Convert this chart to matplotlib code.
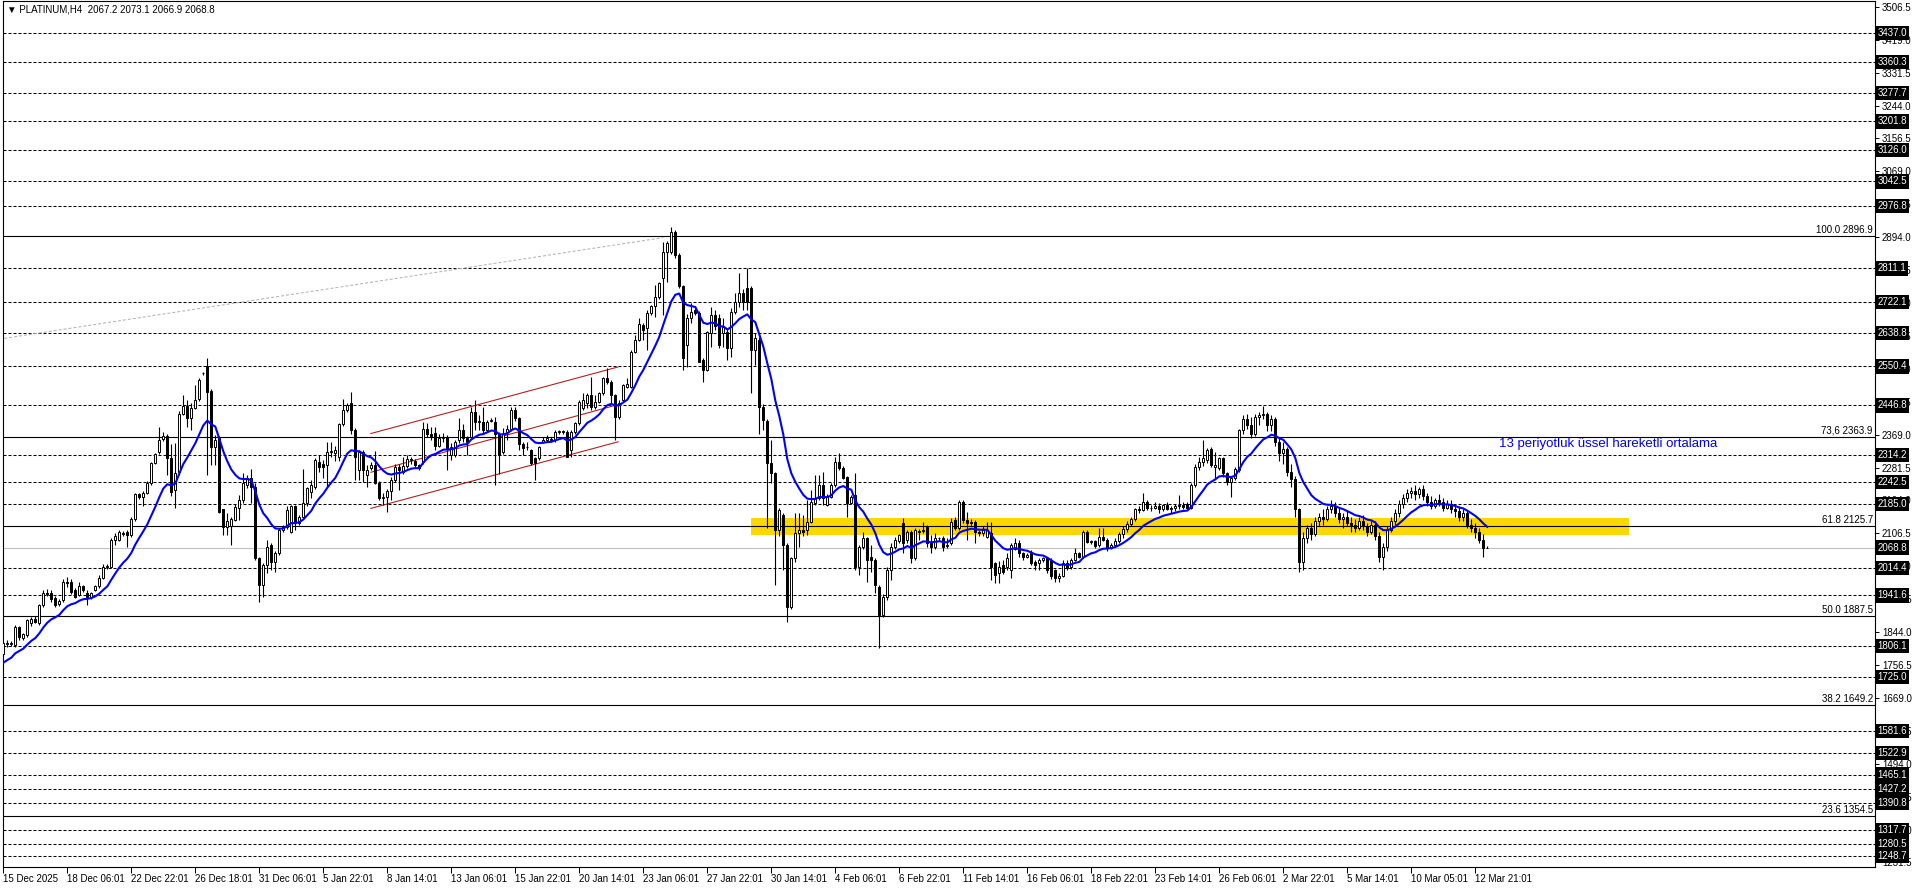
import numpy as np
import matplotlib.pyplot as plt
from matplotlib.patches import Rectangle
from matplotlib.transforms import blended_transform_factory

# ---- data: H4 bars [open, high, low, close] ----
dec_bars = [
    [1787, 1818, 1783, 1814], [1814, 1822, 1805, 1812], [1812, 1820, 1806, 1814], [1810, 1863, 1805, 1858],
    [1858, 1860, 1822, 1830], [1828, 1842, 1824, 1838], [1836, 1880, 1832, 1876], [1868, 1885, 1860, 1880],
    [1880, 1886, 1868, 1872], [1867, 1920, 1862, 1916], [1916, 1955, 1910, 1949], [1949, 1958, 1940, 1946],
    [1949, 1956, 1925, 1931], [1934, 1940, 1912, 1916], [1918, 1932, 1914, 1928], [1929, 1985, 1925, 1978],
    [1978, 1990, 1965, 1975], [1978, 1985, 1945, 1951], [1955, 1960, 1935, 1938], [1943, 1978, 1940, 1966],
    [1966, 1970, 1950, 1956], [1947, 1955, 1916, 1938], [1938, 1950, 1932, 1947], [1956, 1970, 1952, 1966],
    [1966, 1995, 1962, 1989], [1987, 2025, 1984, 2018], [2018, 2024, 2012, 2020], [2018, 2095, 2015, 2090],
    [2090, 2107, 2075, 2100], [2090, 2115, 2086, 2111], [2108, 2112, 2100, 2106], [2110, 2115, 2070, 2103],
    [2102, 2150, 2098, 2145], [2145, 2215, 2140, 2211], [2210, 2214, 2198, 2204], [2204, 2218, 2178, 2215],
    [2213, 2245, 2210, 2241], [2240, 2297, 2236, 2293], [2293, 2320, 2290, 2317], [2323, 2390, 2318, 2355],
    [2358, 2377, 2352, 2365], [2366, 2370, 2262, 2306], [2306, 2345, 2205, 2217], [2222, 2346, 2173, 2266],
    [2270, 2432, 2262, 2425], [2425, 2474, 2420, 2444], [2444, 2461, 2390, 2412], [2412, 2452, 2381, 2440],
    [2440, 2501, 2436, 2461], [2463, 2519, 2458, 2514], [2532, 2536, 2528, 2534], [2551, 2572, 2262, 2483],
    [2486, 2490, 2288, 2337], [2337, 2368, 2288, 2355], [2359, 2365, 2160, 2164], [2170, 2172, 2102, 2124],
    [2124, 2160, 2102, 2139], [2127, 2150, 2076, 2146], [2142, 2185, 2140, 2177], [2173, 2208, 2142, 2195],
    [2195, 2266, 2186, 2240], [2235, 2262, 2226, 2253], [2253, 2279, 2186, 2231], [2231, 2240, 2035, 2040],
    [2040, 2045, 1925, 1969], [1969, 2027, 1938, 2022], [2022, 2089, 2000, 2071], [2076, 2080, 2009, 2031],
    [2031, 2060, 2005, 2053], [2055, 2120, 2050, 2115], [2115, 2129, 2110, 2124], [2124, 2178, 2118, 2168],
    [2111, 2182, 2108, 2178], [2178, 2182, 2116, 2133], [2133, 2155, 2130, 2151], [2151, 2277, 2148, 2186],
    [2186, 2230, 2180, 2226], [2216, 2248, 2200, 2235], [2231, 2306, 2225, 2302], [2297, 2315, 2270, 2284],
]
jan_bars = [
    [2290, 2302, 2253, 2284], [2288, 2350, 2230, 2323], [2323, 2350, 2310, 2325], [2320, 2340, 2300, 2328],
    [2310, 2400, 2300, 2397], [2397, 2463, 2392, 2434], [2434, 2452, 2430, 2448], [2452, 2483, 2372, 2381],
    [2381, 2386, 2248, 2310], [2275, 2328, 2248, 2324], [2324, 2328, 2244, 2275], [2263, 2288, 2231, 2275],
    [2280, 2295, 2275, 2288], [2288, 2325, 2237, 2241], [2241, 2245, 2195, 2200], [2200, 2215, 2182, 2204],
    [2204, 2225, 2164, 2218], [2218, 2257, 2195, 2248], [2248, 2290, 2244, 2284], [2284, 2290, 2222, 2275],
    [2270, 2310, 2265, 2285], [2285, 2315, 2280, 2305], [2305, 2310, 2292, 2302], [2300, 2305, 2282, 2288],
    [2289, 2292, 2275, 2280], [2295, 2403, 2290, 2383], [2385, 2399, 2364, 2372], [2372, 2390, 2355, 2365],
    [2373, 2390, 2328, 2338], [2338, 2372, 2335, 2359], [2360, 2374, 2350, 2362], [2364, 2368, 2275, 2333],
    [2315, 2346, 2302, 2337], [2315, 2355, 2310, 2350], [2355, 2412, 2346, 2381], [2381, 2398, 2350, 2359],
    [2360, 2365, 2315, 2350], [2364, 2443, 2360, 2430], [2430, 2461, 2381, 2403], [2403, 2420, 2381, 2405],
    [2403, 2443, 2372, 2381], [2381, 2408, 2376, 2403], [2406, 2412, 2402, 2408], [2403, 2417, 2235, 2372],
    [2372, 2376, 2265, 2315], [2323, 2386, 2318, 2372], [2376, 2394, 2355, 2385], [2385, 2443, 2380, 2434],
    [2434, 2443, 2405, 2412], [2412, 2416, 2328, 2345], [2345, 2350, 2315, 2333], [2335, 2350, 2328, 2337],
    [2328, 2332, 2288, 2293], [2306, 2310, 2248, 2293], [2306, 2340, 2302, 2337], [2350, 2363, 2346, 2354],
    [2356, 2368, 2350, 2359], [2358, 2362, 2350, 2355], [2355, 2381, 2350, 2377], [2377, 2381, 2370, 2377],
    [2377, 2381, 2370, 2378], [2377, 2381, 2310, 2310], [2328, 2381, 2310, 2377], [2377, 2403, 2372, 2399],
    [2399, 2461, 2395, 2457], [2439, 2479, 2434, 2461], [2452, 2479, 2440, 2474], [2474, 2523, 2434, 2443],
    [2443, 2475, 2438, 2457], [2457, 2482, 2452, 2479], [2479, 2523, 2475, 2519], [2519, 2545, 2505, 2510],
    [2510, 2514, 2452, 2474], [2474, 2478, 2355, 2417], [2417, 2461, 2410, 2452], [2461, 2505, 2455, 2501],
    [2497, 2519, 2492, 2505], [2497, 2595, 2492, 2590], [2590, 2634, 2585, 2621], [2621, 2678, 2618, 2663],
    [2660, 2665, 2621, 2646], [2652, 2700, 2594, 2692], [2692, 2715, 2688, 2711], [2711, 2767, 2683, 2736],
    [2736, 2775, 2730, 2771], [2785, 2882, 2687, 2855], [2855, 2885, 2776, 2878], [2855, 2922, 2850, 2909],
    [2909, 2913, 2840, 2847], [2847, 2852, 2758, 2763], [2763, 2768, 2541, 2572], [2607, 2690, 2550, 2678],
    [2678, 2718, 2665, 2696], [2700, 2712, 2688, 2692], [2692, 2698, 2561, 2563], [2567, 2572, 2510, 2541],
    [2541, 2645, 2538, 2643], [2638, 2709, 2603, 2687], [2687, 2700, 2647, 2658], [2680, 2690, 2600, 2607],
    [2638, 2678, 2603, 2656], [2643, 2650, 2568, 2599], [2599, 2705, 2576, 2696], [2696, 2745, 2690, 2723],
    [2723, 2798, 2709, 2745], [2745, 2755, 2700, 2723], [2758, 2811, 2700, 2723], [2758, 2765, 2479, 2594],
    [2594, 2638, 2554, 2625], [2621, 2628, 2372, 2443], [2443, 2450, 2381, 2408], [2404, 2410, 2120, 2293],
]
feb_bars = [
    [2293, 2355, 2240, 2266], [2266, 2270, 1969, 2116], [2116, 2175, 2100, 2169], [2156, 2162, 2009, 2076],
    [2076, 2080, 1872, 1912], [1912, 2045, 1905, 2040], [2040, 2160, 2030, 2107], [2107, 2160, 2070, 2116],
    [2116, 2155, 2100, 2110], [2116, 2195, 2102, 2138], [2138, 2222, 2135, 2191], [2187, 2262, 2182, 2200],
    [2200, 2262, 2196, 2235], [2235, 2270, 2182, 2200], [2182, 2210, 2180, 2204], [2204, 2240, 2200, 2235],
    [2235, 2310, 2230, 2297], [2297, 2319, 2275, 2280], [2280, 2285, 2250, 2253], [2257, 2260, 2151, 2187],
    [2187, 2208, 2185, 2204], [2208, 2266, 2009, 2018], [2018, 2075, 1996, 2071], [2071, 2111, 2066, 2093],
    [2093, 2097, 1978, 2036], [2045, 2075, 2005, 2036], [2036, 2040, 1947, 1969], [1965, 1968, 1801, 1890],
    [1890, 1945, 1885, 1938], [1938, 2016, 1930, 2009], [2009, 2080, 1983, 2071], [2071, 2098, 2066, 2089],
    [2085, 2106, 2080, 2102], [2133, 2147, 2053, 2080], [2089, 2115, 2080, 2111], [2111, 2115, 2027, 2040],
    [2040, 2120, 2036, 2116], [2113, 2118, 2089, 2111], [2114, 2138, 2108, 2116], [2124, 2128, 2071, 2080],
    [2080, 2102, 2053, 2071], [2071, 2107, 2066, 2093], [2093, 2098, 2085, 2095], [2093, 2100, 2060, 2071],
    [2072, 2095, 2068, 2076], [2080, 2147, 2076, 2138], [2142, 2150, 2115, 2120], [2120, 2195, 2115, 2191],
    [2191, 2195, 2135, 2142], [2142, 2164, 2089, 2133], [2133, 2145, 2125, 2137], [2138, 2142, 2080, 2111],
    [2111, 2115, 2100, 2107], [2107, 2125, 2100, 2116], [2098, 2138, 2095, 2116], [2107, 2138, 1983, 2018],
    [2027, 2030, 1974, 1996], [2000, 2032, 1974, 2018], [2022, 2035, 1998, 2005], [2018, 2053, 2009, 2040],
    [2009, 2080, 1987, 2076], [2066, 2093, 2062, 2080], [2080, 2090, 2045, 2053], [2053, 2058, 2036, 2045],
    [2045, 2055, 2040, 2049], [2053, 2062, 2022, 2027], [2031, 2035, 2009, 2022], [2027, 2040, 2009, 2036],
    [2036, 2045, 2030, 2040], [2040, 2045, 2000, 2009], [2036, 2040, 1985, 1992], [2009, 2012, 1978, 1987],
    [1987, 2000, 1978, 1992], [1992, 2035, 1990, 2027], [2027, 2036, 2010, 2014], [2018, 2040, 2012, 2036],
    [2036, 2067, 2032, 2053], [2053, 2058, 2040, 2045], [2045, 2116, 2040, 2111], [2111, 2116, 2080, 2084],
    [2084, 2090, 2078, 2086], [2086, 2090, 2068, 2072], [2075, 2120, 2070, 2098], [2098, 2120, 2085, 2088],
    [2088, 2095, 2060, 2068], [2068, 2082, 2065, 2075], [2075, 2095, 2070, 2087], [2087, 2110, 2080, 2105],
    [2105, 2125, 2095, 2118], [2118, 2140, 2110, 2132], [2132, 2150, 2125, 2145], [2145, 2175, 2140, 2170],
    [2170, 2180, 2160, 2168], [2168, 2213, 2165, 2191], [2190, 2195, 2168, 2173], [2173, 2182, 2165, 2175],
    [2175, 2190, 2170, 2180], [2180, 2188, 2162, 2170], [2170, 2185, 2165, 2182], [2182, 2190, 2168, 2172],
    [2172, 2180, 2160, 2175], [2175, 2185, 2165, 2178], [2178, 2208, 2170, 2182], [2182, 2190, 2170, 2176],
    [2185, 2190, 2168, 2173], [2173, 2240, 2170, 2235], [2235, 2290, 2230, 2284], [2284, 2310, 2275, 2297],
    [2297, 2355, 2285, 2306], [2302, 2333, 2293, 2328], [2332, 2335, 2284, 2288], [2284, 2324, 2253, 2288],
    [2280, 2310, 2275, 2306], [2306, 2310, 2257, 2266], [2266, 2270, 2235, 2244], [2244, 2260, 2204, 2253],
    [2253, 2283, 2248, 2279], [2275, 2385, 2270, 2381], [2381, 2420, 2370, 2410], [2410, 2425, 2385, 2395],
    [2395, 2415, 2360, 2370], [2370, 2425, 2365, 2415], [2415, 2430, 2395, 2420], [2420, 2446, 2410, 2425],
    [2425, 2430, 2380, 2395], [2395, 2420, 2380, 2410], [2410, 2415, 2340, 2350], [2350, 2360, 2300, 2320],
]
mar_bars = [
    [2320, 2350, 2290, 2330], [2330, 2335, 2260, 2270], [2270, 2290, 2230, 2250], [2250, 2260, 2150, 2170],
    [2170, 2175, 2005, 2030], [2030, 2110, 2010, 2095], [2095, 2130, 2080, 2120], [2120, 2135, 2090, 2105],
    [2105, 2150, 2100, 2140], [2140, 2160, 2125, 2150], [2150, 2170, 2130, 2145], [2145, 2180, 2140, 2170],
    [2170, 2195, 2160, 2180], [2180, 2190, 2150, 2160], [2160, 2175, 2135, 2145], [2145, 2160, 2120, 2150],
    [2150, 2165, 2125, 2135], [2135, 2150, 2110, 2130], [2130, 2145, 2110, 2120], [2120, 2150, 2115, 2140],
    [2140, 2155, 2115, 2125], [2125, 2135, 2100, 2110], [2110, 2140, 2105, 2130], [2130, 2140, 2090, 2100],
    [2100, 2110, 2030, 2045], [2045, 2080, 2010, 2070], [2070, 2125, 2060, 2115], [2115, 2150, 2110, 2140],
    [2140, 2170, 2130, 2160], [2160, 2195, 2150, 2185], [2185, 2210, 2175, 2200], [2200, 2225, 2190, 2215],
    [2215, 2230, 2200, 2220], [2220, 2235, 2195, 2210], [2210, 2230, 2200, 2225], [2225, 2235, 2195, 2205],
    [2205, 2215, 2180, 2190], [2190, 2205, 2170, 2180], [2180, 2200, 2175, 2195], [2195, 2210, 2180, 2190],
    [2190, 2200, 2165, 2175], [2175, 2195, 2170, 2185], [2185, 2195, 2160, 2170], [2170, 2185, 2150, 2165],
    [2165, 2180, 2140, 2150], [2150, 2170, 2140, 2160], [2160, 2165, 2120, 2130], [2130, 2145, 2110, 2120],
    [2120, 2135, 2095, 2110], [2110, 2120, 2080, 2090], [2090, 2105, 2045, 2067], [2067.2, 2073.1, 2066.9, 2068.8],
]

ema_period = 13
ema_seed = 1754.0

x_labels = ["15 Dec 2025", "18 Dec 06:01", "22 Dec 22:01", "26 Dec 18:01", "31 Dec 06:01", "5 Jan 22:01",
            "8 Jan 14:01", "13 Jan 06:01", "15 Jan 22:01", "20 Jan 14:01", "23 Jan 06:01", "27 Jan 22:01",
            "30 Jan 14:01", "4 Feb 06:01", "6 Feb 22:01", "11 Feb 14:01", "16 Feb 06:01", "18 Feb 22:01",
            "23 Feb 14:01", "26 Feb 06:01", "2 Mar 22:01", "5 Mar 14:01", "10 Mar 05:01", "12 Mar 21:01"]
label_step = 16

dash_levels = [3437.0, 3360.3, 3277.7, 3201.8, 3126.0, 3042.5, 2976.8, 2811.1, 2722.1, 2638.8, 2550.4,
               2446.8, 2314.2, 2242.5, 2185.0, 2014.4, 1941.6, 1806.1, 1725.0, 1581.6, 1522.9, 1465.1,
               1427.2, 1390.8, 1317.7, 1280.5, 1248.7]
fib_pct = ["100.0", "73,6", "61.8", "50.0", "38.2", "23.6"]
fib_levels = [2896.9, 2363.9, 2125.7, 1887.5, 1649.2, 1354.5]
bid = 2068.8

zone_bars = [186.9, 406.4]
zone_prices = [2102.2, 2147.4]
channel_bars = [91.9, 153.7]
channel_upper = [2372, 2549]
channel_mid = [2269, 2449]
channel_lower = [2173, 2350]
fib_trend_bars = [-1.0, 165.0]
fib_trend_prices = [2623, 2893]

title = "\u25bc PLATINUM,H4  2067.2 2073.1 2066.9 2068.8"
note = "13 periyotluk üssel hareketli ortalama"

# ---- figure ----
W, H = 1916, 888
fig = plt.figure(figsize=(W / 100, H / 100), dpi=100)
L, R, T, B = 3, 1875, 1, 867
ax = fig.add_axes([L / W, (H - B) / H, (R - L) / W, (B - T) / H])
bar_px, bar0_px = 4.0, 3.3
ax.set_xlim((L - bar0_px) / bar_px, (R - bar0_px) / bar_px)
ax.set_ylim(1219.4, 3522.1)

ohlc = np.array(dec_bars + jan_bars + feb_bars + mar_bars, dtype=float)
o, h, l, c = ohlc.T
idx = np.arange(len(ohlc))

# zone + lines
ax.add_patch(Rectangle((zone_bars[0], zone_prices[0]), zone_bars[1] - zone_bars[0],
                       zone_prices[1] - zone_prices[0], color="#FFD700", lw=0, zorder=0.5))
for lv in dash_levels:
    ax.axhline(lv, color="black", lw=0.75, ls=(0, (2.9, 1.9)), zorder=1)
for lv in fib_levels:
    ax.axhline(lv, color="black", lw=0.8, zorder=1)
ax.axhline(bid, color="#C0C0C0", lw=0.8, zorder=1)
ax.plot(fib_trend_bars, fib_trend_prices, color="#B4B4B4", lw=0.75, ls=(0, (2.9, 1.9)), zorder=1)
for line in (channel_upper, channel_mid, channel_lower):
    ax.plot(channel_bars, line, color="#B22222", lw=0.8, zorder=2)

# candles
ax.vlines(idx, l, h, color="black", lw=0.8, zorder=4)
up = c >= o
lo = np.minimum(o, c)
hgt = np.maximum(np.abs(c - o), 1.5)
ax.bar(idx[up], hgt[up], bottom=lo[up], width=0.55, color="white", edgecolor="black", lw=0.7, zorder=5)
ax.bar(idx[~up], hgt[~up], bottom=lo[~up], width=0.55, color="black", edgecolor="black", lw=0.7, zorder=5)

# EMA 13
alpha = 2 / (ema_period + 1)
ema = np.empty_like(c)
prev = ema_seed
for i, v in enumerate(c):
    prev = prev + alpha * (v - prev)
    ema[i] = prev
ax.plot(idx, ema, color="#0000FF", lw=1.5, zorder=6)

# axes styling
lab_font = "Liberation Sans"
for s in ax.spines.values():
    s.set_linewidth(0.8)
ax.yaxis.tick_right()
ax.set_yticks(np.arange(1231.5, 3510, 87.5))
ax.yaxis.set_major_formatter(plt.FormatStrFormatter("%.1f"))
ax.tick_params(axis="y", direction="out", length=3, width=0.7, labelsize=7, pad=2)
ax.set_xticks(idx[::label_step][:len(x_labels)])
ax.set_xticklabels(x_labels)
ax.tick_params(axis="x", direction="out", length=4, width=0.7, labelsize=7, pad=1)
for t in ax.get_xticklabels() + ax.get_yticklabels():
    t.set_fontfamily(lab_font)
for t in ax.get_xticklabels():
    t.set_horizontalalignment("left")

tr = blended_transform_factory(ax.transAxes, ax.transData)
for lv in dash_levels + [bid]:
    ax.text(1.0013, lv, f"{lv:.1f}", transform=tr, ha="left", va="center", fontsize=7, color="white",
            family=lab_font, bbox=dict(boxstyle="square,pad=0.22", fc="black", ec="none"),
            clip_on=False, zorder=10)
for p, lv in zip(fib_pct, fib_levels):
    ax.text(0.9988, lv + 3, f"{p} {lv:.1f}", transform=tr, ha="right", va="bottom", fontsize=7,
            family=lab_font, zorder=7)

ax.text(374, 2345, note, ha="left", va="center", fontsize=9.5, color="#0000FF",
        family="Liberation Sans", zorder=7)
fig.text(7 / W, 1 - 9 / H, title, ha="left", va="center", fontsize=7, family=lab_font)

fig.savefig("out.png", dpi=100, facecolor="white")
